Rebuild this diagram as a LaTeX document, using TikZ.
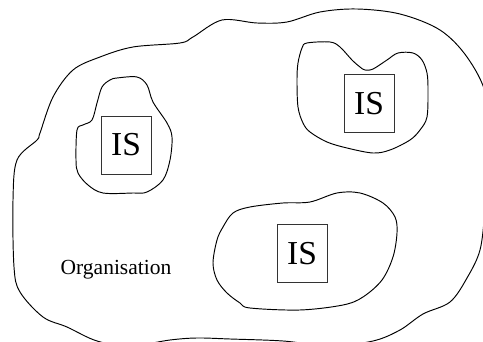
\documentclass[tikz,border=0pt]{standalone}
\usepackage{fontspec}
\setmainfont{Liberation Serif}
\begin{document}
\begin{tikzpicture}[x=1pt,y=-1pt,
  blob/.style={draw=black,line width=0.95pt},
  isbox/.style={draw=black!80,line width=0.75pt,minimum width=50pt,minimum height=58pt,inner sep=0pt,font=\fontsize{33.5}{34}\selectfont},
  orglabel/.style={font=\fontsize{21.5}{22}\selectfont,inner sep=0pt}]
\useasboundingbox (0,0) rectangle (483,342);
\clip (0,0) rectangle (483,342);
% outer organisation blob
\draw[blob] plot[smooth cycle,tension=0.55] coordinates {
 (17,160) (37,140) (40,133) (53,97) (73,70) (100,57) (133,47) (180,43) (193,37)
 (222,20) (257,23) (287,22) (320,12) (357,9) (400,14) (440,30) (467,57) (486,95)
 (490,150) (485,210) (480,250) (467,278) (450,302) (423,314) (400,330) (373,341)
 (330,346) (283,341) (230,339) (197,338) (170,340) (130,346) (97,341) (67,327)
 (43,317) (20,292) (14,267) (13,200)};
% left blob
\draw[blob] plot[smooth cycle,tension=0.55] coordinates {
 (117,78) (137,77) (147,85) (153,102) (167,123) (172,137) (170,160) (163,180)
 (147,192) (133,193) (103,193) (88,185) (78,173) (76,160) (77,130) (83,125)
 (92,120) (97,103) (102,87) (110,80)};
% top-right blob
\draw[blob] plot[smooth cycle,tension=0.55] coordinates {
 (307,43) (330,42) (340,47) (352,60) (360,67) (365,70) (373,69) (387,60) (398,53)
 (413,53) (422,60) (427,73) (428,90) (427,117) (420,130) (410,140) (390,150)
 (373,153) (347,148) (327,142) (310,132) (303,123) (298,107) (297,80) (298,63) (302,48)};
% bottom blob
\draw[blob] plot[smooth cycle,tension=0.55] coordinates {
 (233,213) (250,207) (283,203) (310,202) (337,193) (360,193) (383,203) (395,217)
 (397,233) (393,257) (382,280) (363,297) (343,305) (300,310) (250,308) (240,303)
 (227,293) (217,280) (213,263) (217,240) (223,227)};
% IS boxes
\node[isbox] (is1) at (126,145) {IS};
\node[isbox] (is2) at (369,103.5) {IS};
\node[isbox] (is3) at (302,253.5) {IS};
\node[orglabel,anchor=base] (org) at (116,275) {Organisation};
\end{tikzpicture}
\end{document}
